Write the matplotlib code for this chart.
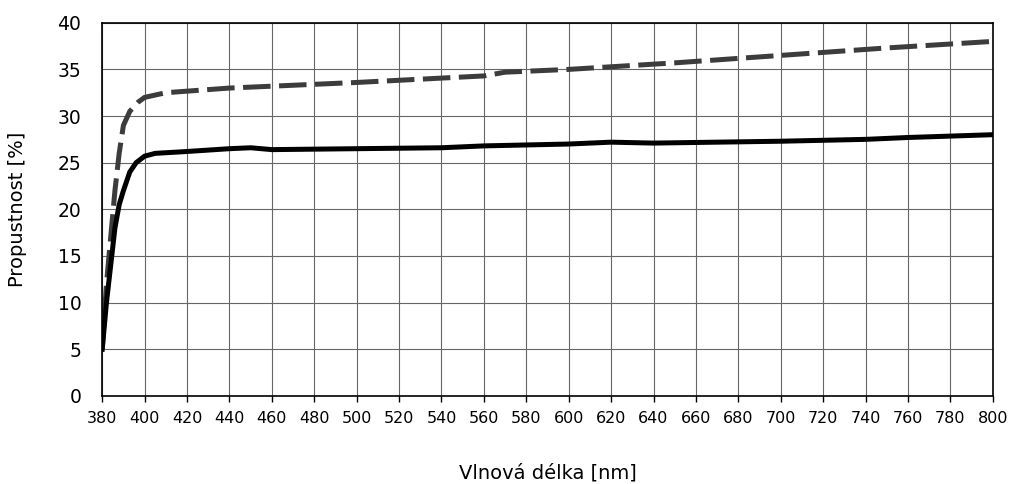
import numpy as np
import matplotlib
matplotlib.use('Agg')
import matplotlib.pyplot as plt

plt.rcParams['font.family'] = ['DejaVu Sans']

# hodnoty
vlna_plna = [380, 382, 384, 386, 388, 390, 393, 396, 400, 405, 420, 440, 450, 460,
             500, 540, 560, 600, 620, 640, 700, 740, 760, 800]
prop_plna = [5, 10, 14, 18, 20.5, 22, 24, 25, 25.7, 26, 26.2, 26.5, 26.6, 26.4,
             26.5, 26.6, 26.8, 27, 27.2, 27.1, 27.3, 27.5, 27.7, 28]

vlna_car = [380, 382, 384, 386, 388, 390, 393, 397, 400, 410, 440, 500, 560, 570,
            600, 650, 700, 750, 800]
prop_car = [5, 12, 17, 22, 26, 29, 30.5, 31.5, 32, 32.5, 33, 33.6, 34.3, 34.7,
            35, 35.7, 36.5, 37.3, 38]

xticks = list(range(380, 801, 20))
yticks = list(range(0, 41, 5))

fig = plt.figure(figsize=(10.12, 4.84), dpi=100)
ax = fig.add_axes([0.101, 0.182, 0.880, 0.771])

ax.plot(vlna_car, prop_car, color='#3c3c3c', lw=3.6, dashes=(5.5, 1.7), solid_capstyle='butt')
ax.plot(vlna_plna, prop_plna, color='black', lw=3.6)

ax.set_xlim(380, 800)
ax.set_ylim(0, 40)
ax.set_xticks(xticks)
ax.set_yticks(yticks)
ax.grid(True, color='#666666', lw=0.8)
ax.set_axisbelow(True)
ax.tick_params(axis='x', labelsize=11.5, length=4, width=1, direction='out', pad=7)
ax.tick_params(axis='y', labelsize=13.5, length=0, pad=15)
for s in ax.spines.values():
    s.set_linewidth(1.2)

ax.set_xlabel('Vlnová délka [nm]', fontsize=14, labelpad=27)
ax.set_ylabel('Propustnost [%]', fontsize=14, labelpad=22)

fig.savefig('out.png', dpi=100)
